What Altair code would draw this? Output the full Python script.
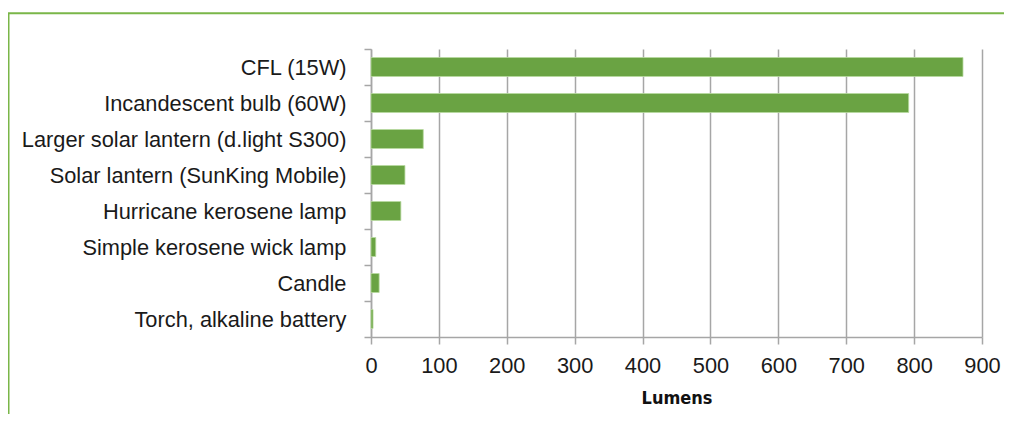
import altair as alt
import pandas as pd

categories = [
    "CFL (15W)",
    "Incandescent bulb (60W)",
    "Larger solar lantern (d.light S300)",
    "Solar lantern (SunKing Mobile)",
    "Hurricane kerosene lamp",
    "Simple kerosene wick lamp",
    "Candle",
    "Torch, alkaline battery",
]
lumens = [872, 792, 77, 50, 44, 7, 12, 3]
x_ticks = [0, 100, 200, 300, 400, 500, 600, 700, 800, 900]

df = pd.DataFrame({"device": categories, "lumens": lumens})

FONT = "Liberation Sans"
GREEN = "#6aa343"
GRID = "#a6a6a6"
FRAME = "#7ab648"

bars = alt.Chart(df).mark_bar(size=19, color=GREEN, stroke="#b7d99f", strokeWidth=0.8).encode(
    y=alt.Y(
        "device:N",
        sort=categories,
        scale=alt.Scale(paddingInner=0, paddingOuter=0),
        axis=alt.Axis(
            title=None,
            tickBand="extent",
            tickSize=7,
            tickColor=GRID,
            tickWidth=1.5,
            domainColor=GRID,
            domainWidth=1.5,
            labelFont=FONT,
            labelFontSize=21.8,
            labelColor="#1a1a1a",
            labelPadding=18,
            labelLimit=400,
            grid=False,
        ),
    ),
    x=alt.X(
        "lumens:Q",
        scale=alt.Scale(domain=[0, 900], nice=False),
        axis=alt.Axis(
            title="Lumens",
            values=x_ticks,
            tickSize=7,
            tickColor=GRID,
            tickWidth=1.5,
            domainColor=GRID,
            domainWidth=1.5,
            grid=True,
            gridColor=GRID,
            gridWidth=1.5,
            labelFont=FONT,
            labelFontSize=21.8,
            labelColor="#1a1a1a",
            labelPadding=11,
            labelFlush=False,
            titleFont="'DejaVu Sans Condensed', 'Liberation Sans', sans-serif",
            titleFontSize=18,
            titleFontWeight="bold",
            titleColor="#111111",
            titlePadding=13,
        ),
    ),
)

frame_src = pd.DataFrame({"k": [0]})
frame_left = alt.Chart(frame_src).mark_rule(color=FRAME, strokeWidth=2).encode(
    x=alt.value(-362.5), y=alt.value(-36), y2=alt.value(380)
)
frame_top = alt.Chart(frame_src).mark_rule(color=FRAME, strokeWidth=2).encode(
    x=alt.value(-363.5), x2=alt.value(660), y=alt.value(-35.7)
)

chart = (
    alt.layer(bars, frame_left, frame_top)
    .properties(
        width=611,
        height=288,
        autosize=alt.AutoSizeParams(type="none"),
        padding={"left": 363, "top": 41, "right": 22, "bottom": 77},
    )
    .configure_view(stroke=None)
)

chart.save("out.html", embed_options={"renderer": "svg", "actions": False})
